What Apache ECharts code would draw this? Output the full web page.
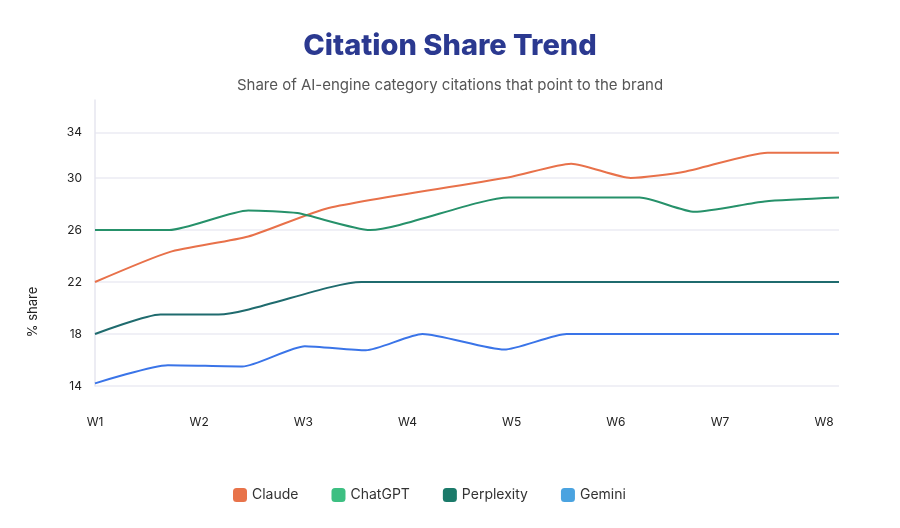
<!DOCTYPE html>
<html>
<head>
<meta charset="utf-8">
<title>Citation Share Trend</title>
<script src="https://cdn.jsdelivr.net/npm/echarts@6/dist/echarts.min.js"></script>
<style>
  html, body { margin: 0; padding: 0; background: #fff; }
  #chart { width: 900px; height: 528px; }
</style>
</head>
<body>
<div id="chart"></div>
<script>
// x is in days from the start of W1 (W2 = day 7, ... W8 = day 49)
const weekLabels = ['W1', 'W2', 'W3', 'W4', 'W5', 'W6', 'W7', 'W8']
const yTickLabels = [14, 18, 22, 26, 30, 33.5]

const claude = [[0, 22.0], [5, 24.3], [10.3, 25.5], [15.7, 27.7], [28, 30.1], [32, 31.1], [36, 30.0], [39.7, 30.5], [45.2, 31.95], [50, 31.95]]
const chatgpt = [[0, 26.0], [5, 26.0], [10.3, 27.5], [13.6, 27.3], [18.5, 26.0], [27.8, 28.5], [36.6, 28.5], [40.3, 27.4], [45, 28.2], [50, 28.5]]
const perplexity = [[0, 18.0], [4.4, 19.5], [8.3, 19.5], [17.9, 22.0], [50, 22.0]]
const gemini = [[0, 14.2], [4.9, 15.6], [9.9, 15.5], [14.1, 17.06], [18.2, 16.75], [22, 18.0], [27.5, 16.8], [31.7, 18.0], [50, 18.0]]

const names = ['Claude', 'ChatGPT', 'Perplexity', 'Gemini']
const lineColors = ['#e8714a', '#26916a', '#1f6b6e', '#3a74e8']
const legendColors = ['#e8734a', '#3dbf82', '#1b7a6a', '#4aa3e0']
const seriesData = [claude, chatgpt, perplexity, gemini]

const font = 'Inter, "Open Sans", sans-serif'

const chart = echarts.init(document.getElementById('chart'))

chart.setOption({
  animation: false,
  backgroundColor: '#fff',
  textStyle: { fontFamily: font },
  title: [
    {
      text: 'Citation Share Trend',
      left: 'center',
      top: 27,
      textStyle: { fontFamily: font, fontSize: 29, fontWeight: 800, color: '#2b3990' }
    },
    {
      text: 'Share of AI-engine category citations that point to the brand',
      left: 'center',
      top: 73,
      textStyle: { fontFamily: font, fontSize: 15, fontWeight: 'normal', color: '#555' }
    }
  ],
  legend: {
    bottom: 21,
    left: 228,
    icon: 'roundRect',
    itemWidth: 14,
    itemHeight: 14,
    itemGap: 33,
    textStyle: { fontFamily: font, fontSize: 14, color: '#333' },
    data: names.map((n, i) => ({ name: n, itemStyle: { color: legendColors[i], borderWidth: 0 } }))
  },
  grid: { left: 95, right: 61, top: 100, bottom: 142 },
  xAxis: {
    type: 'value',
    min: 0,
    max: 50,
    interval: 7,
    axisLine: { show: false },
    axisTick: { show: false },
    splitLine: { show: false },
    axisLabel: {
      margin: 30,
      fontSize: 12,
      color: '#222',
      showMaxLabel: false,
      formatter: v => (v % 7 === 0 ? weekLabels[v / 7] : '')
    }
  },
  yAxis: {
    type: 'value',
    min: 14,
    max: 36,
    axisLine: { show: true, lineStyle: { color: '#e6e6ef', width: 1.5 } },
    axisTick: { show: false, customValues: yTickLabels },
    splitLine: { show: true, lineStyle: { color: '#f0f0f6', width: 2 } },
    axisLabel: {
      customValues: yTickLabels,
      margin: 13,
      fontSize: 12,
      color: '#222',
      formatter: v => String(Math.round(v))
    }
  },
  graphic: [
    {
      type: 'text',
      x: 33,
      y: 312,
      rotation: Math.PI / 2,
      style: { text: '% share', fontFamily: font, fontSize: 13, fill: '#222', align: 'center', verticalAlign: 'middle' }
    }
  ],
  series: names.map((n, i) => ({
    name: n,
    type: 'line',
    data: seriesData[i],
    smooth: 0.2,
    showSymbol: false,
    color: legendColors[i],
    lineStyle: { color: lineColors[i], width: 2 }
  }))
})
</script>
</body>
</html>
